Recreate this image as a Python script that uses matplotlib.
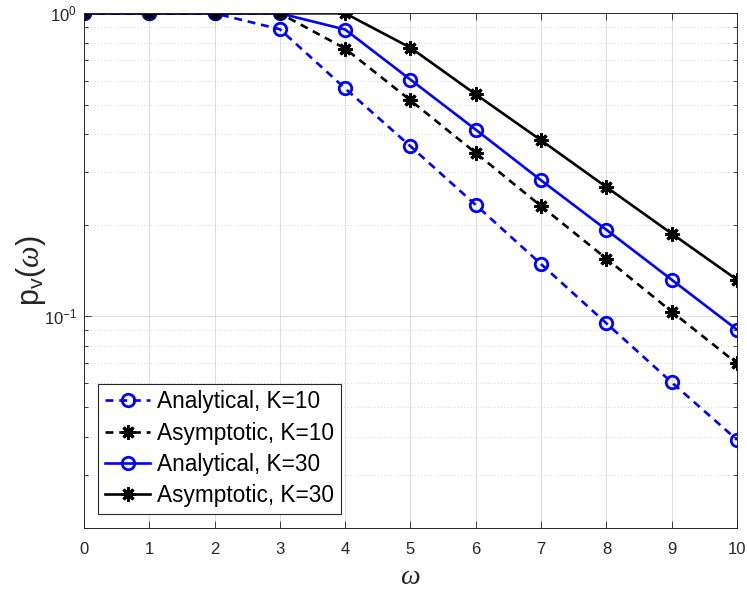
import matplotlib
matplotlib.use('Agg')
import matplotlib.pyplot as plt
import numpy as np

# Data (omega = 0..10, log-scale probabilities)
omega = np.arange(0, 11)

analytical_k10 = [1.0, 1.0, 1.0, 0.886, 0.565, 0.364, 0.233, 0.1486, 0.0948, 0.0605, 0.0391]
asymptotic_k10 = [1.0, 1.0, 1.0, 1.0, 0.765, 0.516, 0.346, 0.231, 0.155, 0.1036, 0.0699]
analytical_k30 = [1.0, 1.0, 1.0, 1.0, 0.884, 0.604, 0.413, 0.281, 0.193, 0.132, 0.0903]
asymptotic_k30 = [1.0, 1.0, 1.0, 1.0, 1.0, 0.770, 0.540, 0.381, 0.267, 0.1875, 0.132]

labels = ['Analytical, K=10', 'Asymptotic, K=10', 'Analytical, K=30', 'Asymptotic, K=30']

plt.rcParams['font.family'] = ['Liberation Sans', 'DejaVu Sans']
plt.rcParams['mathtext.fontset'] = 'custom'
plt.rcParams['mathtext.rm'] = 'Liberation Sans'
plt.rcParams['mathtext.it'] = 'Liberation Serif:italic'

axis_gray = '#262626'
star = (8, 2, 0)

fig = plt.figure(figsize=(7.47, 5.92), dpi=100)
ax = fig.add_axes([0.1124, 0.1081, 0.8742, 0.8694])

ax.plot(omega, analytical_k10, color='blue', linestyle='--', dashes=(3, 2.2), linewidth=1.9,
        marker='o', markersize=9, markerfacecolor='none', markeredgewidth=2, label=labels[0])
ax.plot(omega, asymptotic_k10, color='black', linestyle='--', dashes=(3, 2.2), linewidth=1.9,
        marker=star, markersize=10, markeredgewidth=2.2, label=labels[1])
ax.plot(omega, analytical_k30, color='blue', linestyle='-', linewidth=1.9,
        marker='o', markersize=9, markerfacecolor='none', markeredgewidth=2, label=labels[2])
ax.plot(omega, asymptotic_k30, color='black', linestyle='-', linewidth=1.9,
        marker=star, markersize=10, markeredgewidth=2.2, label=labels[3])

ax.set_yscale('log')
ax.set_xlim(0, 10)
ax.set_ylim(0.02, 1)
ax.set_xticks(omega)

# MATLAB-like look: inward ticks all round, light grid
ax.tick_params(which='both', direction='in', top=True, right=True, colors=axis_gray,
               labelsize=12, width=0.6)
ax.tick_params(which='major', length=5)
ax.tick_params(which='minor', length=3)
ax.tick_params(axis='x', which='major', pad=10)
ax.tick_params(axis='y', which='both', pad=5)
ax.tick_params(axis='x', which='minor', bottom=False, top=False)
for s in ax.spines.values():
    s.set_color(axis_gray)
    s.set_linewidth(0.7)

ax.grid(True, which='major', color='#dcdcdc', linestyle='-', linewidth=0.7)
ax.grid(True, which='minor', axis='y', color='#c4c4c4', linestyle=(0, (1, 3)), linewidth=0.6)
ax.set_axisbelow(True)

ax.set_xlabel(r'$\omega$', fontsize=20, color=axis_gray, labelpad=5)
ax.set_ylabel(r'$\mathrm{p}_\mathrm{v}(\omega)$', fontsize=22, color=axis_gray, labelpad=-3)

leg = ax.legend(loc='lower left', bbox_to_anchor=(0.022, 0.028), fontsize=16.3, fancybox=False,
                framealpha=1, edgecolor=axis_gray, handlelength=2.0, handletextpad=0.3,
                labelspacing=0.36, borderpad=0.3, borderaxespad=0)
leg.get_frame().set_linewidth(0.8)

fig.savefig('out.png', dpi=100)
